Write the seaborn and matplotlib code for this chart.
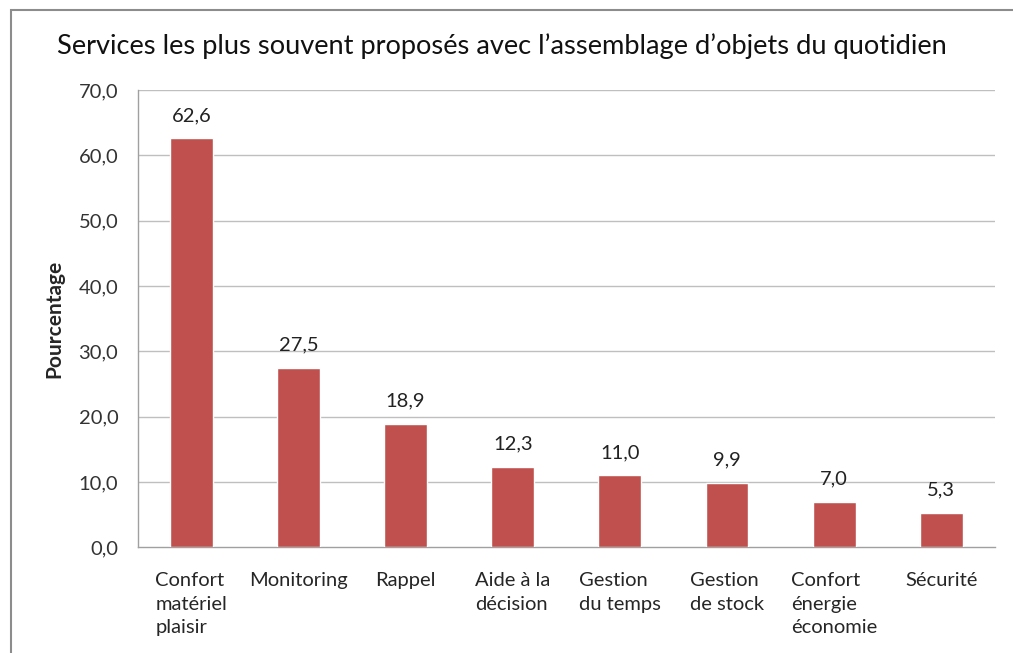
import matplotlib
matplotlib.use("Agg")
import matplotlib.pyplot as plt
import matplotlib.patches as mpatches
import seaborn as sns
import pandas as pd

categories = ["Confort\nmatériel\nplaisir", "Monitoring", "Rappel", "Aide à la\ndécision",
              "Gestion\ndu temps", "Gestion\nde stock", "Confort\nénergie\néconomie", "Sécurité"]
values = [62.6, 27.5, 18.9, 12.3, 11.0, 9.9, 7.0, 5.3]
yticks = [0, 10, 20, 30, 40, 50, 60, 70]

_BAR = "#C0504D"
_GRID = "#BFBFBF"

sns.set_style("white")
plt.rcParams["font.family"] = ["Lato", "DejaVu Sans"]

df = pd.DataFrame({"cat": categories, "val": values})

fig = plt.figure(figsize=(10.13, 6.53), dpi=100)
ax = fig.add_axes([0.136, 0.162, 0.846, 0.700])

sns.barplot(data=df, x="cat", y="val", color=_BAR, width=0.4, saturation=1, ax=ax, zorder=3)

ax.set_ylim(0, 70)
ax.set_xlim(-0.5, len(categories) - 0.5)
ax.set_yticks(yticks)
ax.set_yticklabels([f"{t:.1f}".replace(".", ",") for t in yticks], fontsize=14.5, color="#333333")
for t in yticks[1:]:
    ax.axhline(t, color=_GRID, lw=1, zorder=1)

# category boundary ticks, Excel style
ax.set_xticks([i - 0.5 for i in range(len(categories) + 1)], minor=True)
ax.set_xticks(range(len(categories)))
ax.set_xticklabels(categories, fontsize=14.5, multialignment="left", va="top", linespacing=1.45)
ax.tick_params(axis="x", which="major", length=0, pad=18)
ax.tick_params(axis="x", which="minor", length=6, color="#A0A0A0", direction="out")
ax.tick_params(axis="y", length=6, color="#A0A0A0", direction="out", pad=8)

for s in ["top", "right"]:
    ax.spines[s].set_visible(False)
for s in ["left", "bottom"]:
    ax.spines[s].set_color("#A0A0A0")
    ax.spines[s].set_linewidth(1)

for i, v in enumerate(values):
    ax.text(i, v + 2.2, f"{v:.1f}".replace(".", ","), ha="center", va="bottom",
            fontsize=14.5, color="#222222")

ax.set_xlabel("")
ax.set_ylabel("Pourcentage", fontsize=15, fontweight="bold", labelpad=10)

fig.text(0.056, 0.93, "Services les plus souvent proposés avec l\u2019assemblage d\u2019objets du quotidien",
         fontsize=19.6, ha="left", va="center", color="#111111")

# outer chart frame (only top and left visible)
frame = mpatches.Rectangle((0.011, -0.1), 1.2, 0.1 + 0.984, transform=fig.transFigure,
                           fill=False, edgecolor="#8C8C8C", lw=1.5)
fig.patches.append(frame)

fig.savefig("out.png", dpi=100)
